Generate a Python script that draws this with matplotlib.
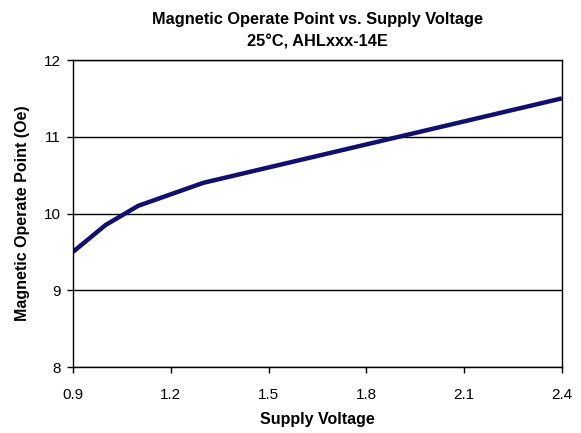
import matplotlib
matplotlib.use("Agg")
import matplotlib.pyplot as plt

plt.rcParams['font.family'] = ['Liberation Sans', 'DejaVu Sans']

# supply voltage (V) and operate point (Oe)
voltage = [0.9, 1.0, 1.1, 1.3, 2.4]
operate_point = [9.5, 9.85, 10.1, 10.4, 11.5]

x_ticks = [0.9, 1.2, 1.5, 1.8, 2.1, 2.4]
y_ticks = [8, 9, 10, 11, 12]

fig = plt.figure(figsize=(5.81, 4.33), dpi=100)
ax = fig.add_axes([0.1256, 0.1524, 0.8414, 0.709])

ax.plot(voltage, operate_point, color='#10106e', lw=3.2, solid_capstyle='butt')

ax.set_xlim(0.9, 2.4)
ax.set_ylim(8, 12)
ax.set_xticks(x_ticks)
ax.set_xticklabels([f"{v:.1f}" for v in x_ticks])
ax.set_yticks(y_ticks)
ax.yaxis.grid(True, color='black', lw=1)
ax.set_axisbelow(True)
ax.tick_params(direction='out', length=4, width=1, labelsize=11)
ax.tick_params(axis='x', pad=11)
ax.tick_params(axis='y', pad=5)
for s in ax.spines.values():
    s.set_linewidth(1)

ax.set_xlabel('Supply Voltage', fontsize=11.5, fontweight='bold', labelpad=7)
ax.set_ylabel('Magnetic Operate Point (Oe)', fontsize=11.5, fontweight='bold', labelpad=10)
ax.set_title('Magnetic Operate Point vs. Supply Voltage\n25°C, AHLxxx-14E',
             fontsize=11.8, fontweight='bold', pad=10, linespacing=1.6)

fig.savefig('out.png', dpi=100)
